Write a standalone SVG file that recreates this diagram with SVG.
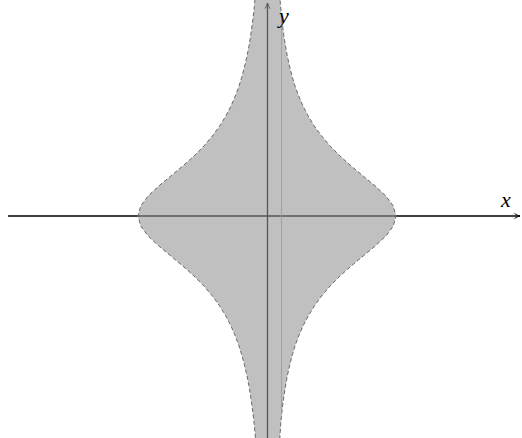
<svg xmlns="http://www.w3.org/2000/svg" width="522" height="438" viewBox="0 0 522 438">
<style>
.axis{stroke:#000;stroke-width:1.3;fill:none}
.region{fill:#929292;fill-opacity:0.58;stroke:#6a6a6a;stroke-width:1;stroke-dasharray:4 2.5;stroke-linejoin:round}
.lbl{font-family:"Liberation Serif","DejaVu Serif",serif;font-style:italic;font-size:22px;fill:#000}
</style>
<defs>
<marker id="arr" viewBox="0 0 10 10" refX="9" refY="5" markerWidth="7" markerHeight="7" orient="auto" markerUnits="userSpaceOnUse">
<path d="M1,1.5 Q5,4 9,5 Q5,6 1,8.5" fill="none" stroke="#000" stroke-width="1.3"/>
</marker>
<path id="shape" d="M279.5,-6 L280.6,6 L281.5,16 L282.6,26 L283.9,36 L285.5,46 L287.3,56 L289.5,66 L292,76 L295,86 L298.7,96 L303,106 L308.2,116 L314.3,126 L321.6,136 L330.1,146 L340,156 L351.2,166 L363.2,176 L375.2,186 L385.9,196 L393.3,206 L396,216 L393.3,226 L385.9,236 L375.2,246 L363.2,256 L351.2,266 L340,276 L330.1,286 L321.6,296 L314.3,306 L308.2,316 L303,326 L298.7,336 L295,346 L292,356 L289.5,366 L287.3,376 L285.5,386 L283.9,396 L282.6,406 L281.5,416 L280.6,426 L279.8,438 L279.6,444 L255.4,444 L255.4,438 L254.4,426 L253.3,416 L252,406 L250.6,396 L249,386 L247,376 L244.7,366 L242.1,356 L239,346 L235.3,336 L231,326 L225.8,316 L219.7,306 L212.4,296 L203.9,286 L194,276 L182.8,266 L170.8,256 L158.8,246 L148.1,236 L140.7,226 L138,216 L140.7,206 L148.1,196 L158.8,186 L170.8,176 L182.8,166 L194,156 L203.9,146 L212.4,136 L219.7,126 L225.8,116 L231,106 L235.3,96 L239,86 L242.1,76 L244.7,66 L247,56 L249,46 L250.6,36 L252,26 L253.3,16 L254.4,6 L255.4,-6 Z"/>
<clipPath id="clip"><use href="#shape"/></clipPath>
</defs>
<g id="connectors">
<line class="axis" x1="8" y1="216" x2="520" y2="216" marker-end="url(#arr)"/>
<line class="axis" x1="267.5" y1="438" x2="267.5" y2="3" marker-end="url(#arr)"/>
</g>
<g id="region">
<use href="#shape" class="region"/>
<line x1="281.5" y1="0" x2="281.5" y2="438" stroke="#9a9a9a" stroke-width="0.8" clip-path="url(#clip)"/>
</g>
<g id="labels">
<text class="lbl" x="501" y="207">x</text>
<text class="lbl" x="279" y="23">y</text>
</g>
</svg>
